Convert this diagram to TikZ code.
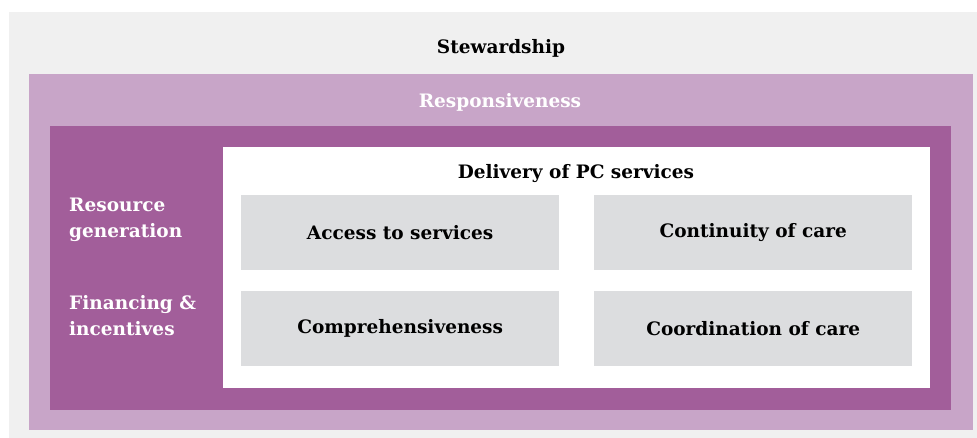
\documentclass[tikz,border=0pt]{standalone}
\usepackage{fontspec}
\setmainfont{DejaVu Serif}
\usetikzlibrary{positioning}

\definecolor{stewgray}{HTML}{F0F0F0}
\definecolor{lilac}{HTML}{C8A5C8}
\definecolor{plum}{HTML}{A25E9A}
\definecolor{cellgray}{HTML}{DCDDDF}

\begin{document}
\begin{tikzpicture}[
  x=1pt, y=-1pt,
  font=\bfseries\fontsize{18.5}{26}\selectfont,
  panel/.style={rectangle, inner sep=0pt, anchor=north west},
  cell/.style={panel, fill=cellgray, minimum width=318pt, minimum height=75pt},
  label/.style={inner sep=0pt, align=left, anchor=west}
]
  \useasboundingbox (0,0) rectangle (977,438);

  % nested frames, outermost first
  \node[panel, fill=stewgray, minimum width=968pt, minimum height=426pt] (stew) at (9,12) {};
  \node[panel, fill=lilac, minimum width=944pt, minimum height=356pt] (resp) at (29,74) {};
  \node[panel, fill=plum, minimum width=901pt, minimum height=284pt] (core) at (50,126) {};
  \node[panel, fill=white, minimum width=707pt, minimum height=241pt] (deliv) at (223,147) {};

  % frame titles
  \node (stewtitle) at (501,48) {Stewardship};
  \node[text=white] (resptitle) at (500,102) {Responsiveness};
  \node (delivtitle) at (576,174) {Delivery of PC services};

  % side labels
  \node[label, text=white] (resgen) at (69,220) {Resource\\generation};
  \node[label, text=white] (finance) at (69,316) {Financing \&\\incentives};

  % the four service cells
  \node[cell] (access) at (241,195) {};
  \node[cell] (contin) at (594,195) {};
  \node[cell] (compre) at (241,291) {};
  \node[cell] (coord) at (594,291) {};
  \node at (access.center) {Access to services};
  \node at (contin.center) {Continuity of care};
  \node at (compre.center) {Comprehensiveness};
  \node at (coord.center) {Coordination of care};
\end{tikzpicture}
\end{document}
